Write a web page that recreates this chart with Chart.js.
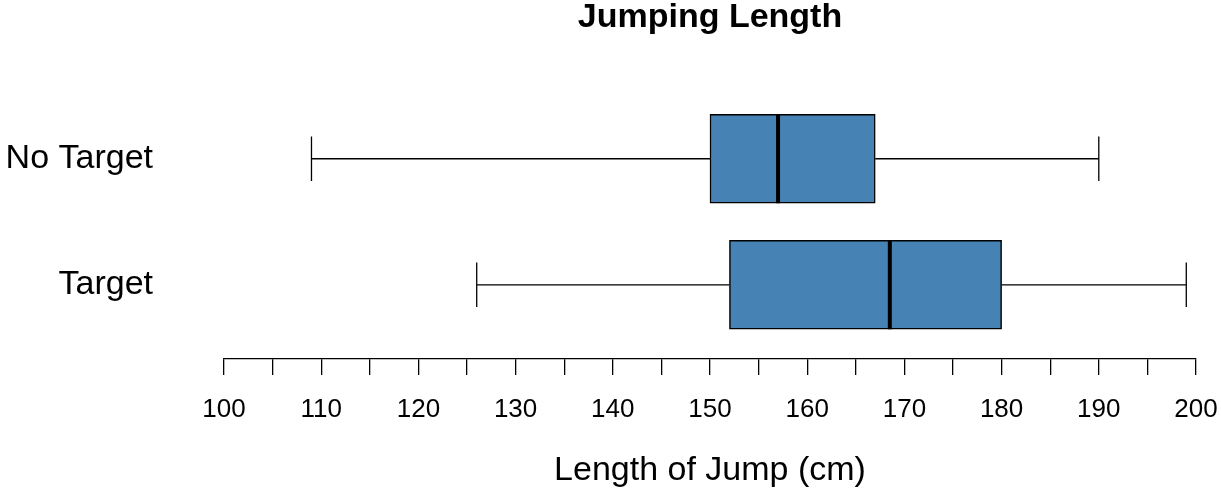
<!DOCTYPE html>
<html>
<head>
<meta charset="utf-8">
<script src="https://cdn.jsdelivr.net/npm/chart.js@4/dist/chart.umd.min.js"></script>
<style>
  html, body { margin: 0; padding: 0; background: #fff; }
  #wrap { width: 1221px; height: 491px; position: relative; }
</style>
</head>
<body>
<div id="wrap"><canvas id="c"></canvas></div>
<script>
/* ── Datos ────────────────────────────────────────── */
const categories  = ["No Target", "Target"];
const whiskerLow  = [109, 126];
const quartile1   = [150, 152];
const medians     = [157, 168.5];
const quartile3   = [167, 180];
const whiskerHigh = [190, 199];

const xMin = 100, xMax = 200, xStep = 5, xLabelStep = 10;

const FONT = "'Liberation Sans', Arial, Helvetica, sans-serif";
const BOX_FILL = "#4682B4";

/* ── Plugin: bigotes + mediana ─────────────────────── */
const boxExtrasPlugin = {
  id: "boxExtras",
  afterDatasetsDraw(chart) {
    const { ctx, scales: { x, y } } = chart;
    const meta = chart.getDatasetMeta(0);
    ctx.save();
    ctx.strokeStyle = "#000";
    categories.forEach((_, i) => {
      const el = meta.data[i];
      const cy = y.getPixelForValue(i);
      const half = el.height / 2;
      const cap = el.height / 4;

      // bigotes
      ctx.lineWidth = 1.3;
      ctx.beginPath();
      ctx.moveTo(x.getPixelForValue(whiskerLow[i]), cy);
      ctx.lineTo(x.getPixelForValue(quartile1[i]), cy);
      ctx.moveTo(x.getPixelForValue(quartile3[i]), cy);
      ctx.lineTo(x.getPixelForValue(whiskerHigh[i]), cy);
      // topes
      const xl = x.getPixelForValue(whiskerLow[i]);
      const xh = x.getPixelForValue(whiskerHigh[i]);
      ctx.moveTo(xl, cy - cap);
      ctx.lineTo(xl, cy + cap);
      ctx.moveTo(xh, cy - cap);
      ctx.lineTo(xh, cy + cap);
      ctx.stroke();

      // mediana
      const xm = x.getPixelForValue(medians[i]);
      ctx.lineWidth = 4;
      ctx.beginPath();
      ctx.moveTo(xm, cy - half);
      ctx.lineTo(xm, cy + half);
      ctx.stroke();
    });
    ctx.restore();
  },
};

const boxData = categories.map((_, i) => ({ y: i, x: [quartile1[i], quartile3[i]] }));

new Chart(document.getElementById("c"), {
  type: "bar",
  data: {
    datasets: [{
      data: boxData,
      backgroundColor: BOX_FILL,
      borderColor: "#000",
      borderWidth: 1.5,
      borderSkipped: false,
      barThickness: 89,
    }],
  },
  options: {
    indexAxis: "y",
    responsive: true,
    maintainAspectRatio: false,
    animation: false,
    layout: { padding: { left: 0, top: 0, bottom: 0, right: 25 } },
    plugins: {
      legend: { display: false },
      tooltip: { enabled: false },
      title: {
        display: true,
        fullSize: false,
        text: "Jumping Length",
        color: "#000",
        font: { family: FONT, size: 34, weight: "bold", lineHeight: 1 },
        padding: { top: 1, bottom: 60.75 },
      },
    },
    scales: {
      x: {
        type: "linear",
        position: "bottom",
        min: xMin,
        max: xMax,
        afterFit: (s) => {
          s.height = 132;
          s.paddingLeft = 0;
          s.paddingRight = 0;
        },
        ticks: {
          stepSize: xStep,
          autoSkip: false,
          maxRotation: 0,
          color: "#000",
          padding: 19,
          font: { family: FONT, size: 26 },
          callback: (v) => (v % xLabelStep === 0 ? String(v) : ""),
        },
        grid: {
          drawOnChartArea: false,
          drawTicks: true,
          tickLength: 16,
          color: "#000",
          lineWidth: 1.3,
        },
        border: { display: true, color: "#000", width: 1.3 },
        title: {
          display: true,
          text: "Length of Jump (cm)",
          color: "#000",
          font: { family: FONT, size: 34 },
          padding: { top: 0, bottom: 0 },
        },
      },
      y: {
        type: "linear",
        reverse: true,
        offset: false,
        min: -0.5,
        max: 1.589,
        afterFit: (s) => {
          s.width = 224;
          s.paddingTop = 0;
          s.paddingBottom = 0;
        },
        ticks: {
          stepSize: 1,
          includeBounds: false,
          color: "#000",
          padding: 71,
          font: { family: FONT, size: 34 },
          callback: (v) => categories[v] ?? "",
        },
        grid: { display: false, drawTicks: false, offset: false },
        border: { display: false },
      },
    },
  },
  plugins: [boxExtrasPlugin],
});
</script>
</body>
</html>
